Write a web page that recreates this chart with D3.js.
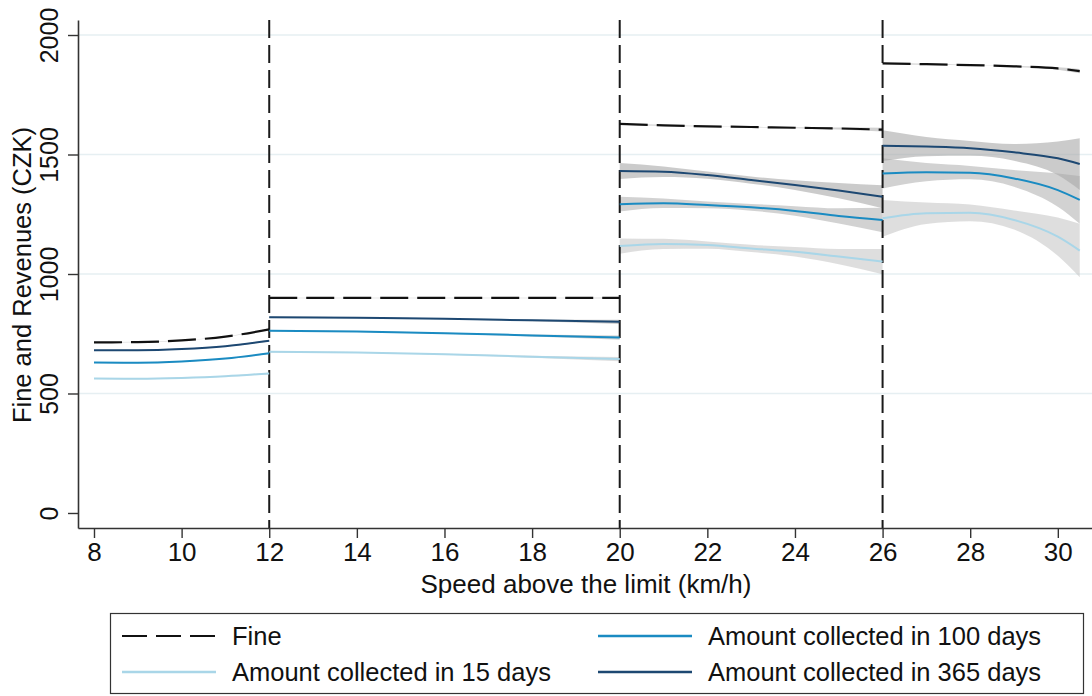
<!DOCTYPE html>
<html><head><meta charset="utf-8">
<script src="https://cdn.jsdelivr.net/npm/d3@7"></script>
<style>body{margin:0;background:#fff}svg{display:block}text{font-family:"Liberation Sans",Arial,sans-serif;fill:#111}</style>
</head><body>
<script>
// ---- data ----
const yTicks = [0, 500, 1000, 1500, 2000];
const xTicks = [8, 10, 12, 14, 16, 18, 20, 22, 24, 26, 28, 30];
const cutoffs = [12, 20, 26];
const seriesNames = ["Fine", "Amount collected in 15 days", "Amount collected in 100 days", "Amount collected in 365 days"];

const seg1X = [8, 9, 10, 11, 12];
const seg2X = [12, 14, 16, 18, 20];
const seg3X = [20, 21, 22, 23, 24, 25, 26];
const seg4X = [26, 27, 28, 29, 30, 30.5];

// values per segment
const fine1 = [714, 715, 722, 738, 768];
const fine2 = [900, 900, 900, 900, 900];
const fine3 = [1628, 1622, 1618, 1615, 1612, 1609, 1604];
const fine4 = [1881, 1878, 1874, 1869, 1860, 1849];
const d15_1 = [563, 562, 565, 572, 584];
const d15_2 = [675, 672, 664, 654, 644];
const d15_3 = [1117, 1126, 1121, 1107, 1093, 1073, 1052];
const d15_4 = [1233, 1254, 1256, 1226, 1156, 1098];
const d100_1 = [630, 629, 634, 646, 668];
const d100_2 = [763, 759, 752, 743, 734];
const d100_3 = [1292, 1296, 1289, 1279, 1264, 1243, 1226];
const d100_4 = [1421, 1426, 1424, 1400, 1351, 1310];
const d365_1 = [681, 681, 686, 698, 721];
const d365_2 = [819, 817, 813, 806, 800];
const d365_3 = [1431, 1428, 1414, 1393, 1372, 1349, 1323];
const d365_4 = [1537, 1533, 1526, 1509, 1484, 1460];

// confidence half-widths per segment
const ciFine = [[1, 1, 1, 1, 2], [1, 1, 1, 1, 2], [3, 2, 1, 1, 2, 4, 8], [3, 2, 1, 2, 5, 9]];
const ci15 = [[2, 2, 2, 2, 3], [3, 2, 2, 4, 9], [32, 21, 15, 15, 20, 32, 53], [77, 45, 35, 40, 80, 112]];
const ci100 = [[2, 2, 2, 2, 3], [3, 2, 2, 4, 9], [31, 20, 14, 14, 20, 32, 51], [63, 38, 28, 35, 70, 100]];
const ci365 = [[2, 2, 2, 2, 3], [3, 2, 2, 4, 9], [33, 22, 15, 15, 20, 32, 48], [64, 40, 31, 35, 70, 108]];

// ---- layout ----
const W = 1092, H = 696;
const svg = d3.select("body").append("svg").attr("width", W).attr("height", H);
const x = d3.scaleLinear().domain([7.635, 30.78]).range([78, 1092]);
const y = d3.scaleLinear().domain([-62.8, 2062.8]).range([528, 20]);

const segXs = [seg1X, seg2X, seg3X, seg4X];
const series = [
  {name: seriesNames[0], vals: [fine1, fine2, fine3, fine4], ci: ciFine, color: "#111", dash: "28,9", band: "#9a9a9a", bop: 0.45},
  {name: seriesNames[1], vals: [d15_1, d15_2, d15_3, d15_4], ci: ci15, color: "#a9d6e8", dash: null, band: "#c8c8c8", bop: 0.6},
  {name: seriesNames[2], vals: [d100_1, d100_2, d100_3, d100_4], ci: ci100, color: "#1a8bc2", dash: null, band: "#b4b4b4", bop: 0.6},
  {name: seriesNames[3], vals: [d365_1, d365_2, d365_3, d365_4], ci: ci365, color: "#1d4872", dash: null, band: "#a8a8a8", bop: 0.6}
];

// gridlines
svg.append("g").selectAll("line").data(yTicks.filter(d => d > 0)).join("line")
  .attr("x1", 79).attr("x2", W).attr("y1", d => y(d)).attr("y2", d => y(d))
  .attr("stroke", "#e6eff2").attr("stroke-width", 1.6);

// bands
const area = d3.area().x(d => x(d.x)).y0(d => y(d.v - d.c)).y1(d => y(d.v + d.c)).curve(d3.curveMonotoneX);
const line = d3.line().x(d => x(d.x)).y(d => y(d.v)).curve(d3.curveMonotoneX);
const pts = (s, k) => segXs[k].map((xx, i) => ({x: xx, v: s.vals[k][i], c: s.ci[k][i]}));

series.forEach(s => {
  for (let k = 0; k < 4; k++) {
    svg.append("path").attr("d", area(pts(s, k))).attr("fill", s.band).attr("fill-opacity", s.bop);
  }
});
// vertical cutoff lines
svg.append("g").selectAll("line").data(cutoffs).join("line")
  .attr("x1", d => x(d)).attr("x2", d => x(d)).attr("y1", 20).attr("y2", 528)
  .attr("stroke", "#1a1a1a").attr("stroke-width", 2).attr("stroke-dasharray", "18,7");
// lines
series.forEach(s => {
  for (let k = 0; k < 4; k++) {
    svg.append("path").attr("d", line(pts(s, k))).attr("fill", "none")
      .attr("stroke", s.color).attr("stroke-width", s.dash ? 2.2 : 2)
      .attr("stroke-dasharray", s.dash);
  }
});

// axes
const xAxis = d3.axisBottom(x).tickValues(xTicks).tickSize(10).tickPadding(5).tickSizeOuter(0);
const gx = svg.append("g").attr("transform", "translate(0,528)").call(xAxis);
gx.select(".domain").attr("stroke", "#333").attr("stroke-width", 1.6);
gx.selectAll(".tick line").attr("stroke", "#333").attr("stroke-width", 1.4);
gx.selectAll(".tick text").attr("font-size", 26).attr("fill", "#111");

const yAxis = d3.axisLeft(y).tickValues(yTicks).tickSize(10).tickSizeOuter(0).tickFormat(d3.format("d"));
const gy = svg.append("g").attr("transform", "translate(78,0)").call(yAxis);
gy.select(".domain").attr("stroke", "#333").attr("stroke-width", 1.6);
gy.selectAll(".tick line").attr("stroke", "#333").attr("stroke-width", 1.4);
gy.selectAll(".tick text").attr("font-size", 25).attr("fill", "#111")
  .attr("transform", "rotate(-90)").attr("x", 0).attr("y", -20).attr("dy", 0).attr("text-anchor", "middle");

// axis titles
svg.append("text").attr("x", 586).attr("y", 593).attr("text-anchor", "middle").attr("font-size", 26)
  .text("Speed above the limit (km/h)");
svg.append("text").attr("transform", "translate(31,275) rotate(-90)").attr("text-anchor", "middle").attr("font-size", 25.5)
  .text("Fine and Revenues (CZK)");

// legend
const lg = svg.append("g");
lg.append("rect").attr("x", 110.5).attr("y", 613.5).attr("width", 973).attr("height", 80)
  .attr("fill", "#fff").attr("stroke", "#333").attr("stroke-width", 1.2);
const legItems = [
  {s: series[0], lx: 122, ty: 636},
  {s: series[2], lx: 598, ty: 636},
  {s: series[1], lx: 122, ty: 672},
  {s: series[3], lx: 598, ty: 672}
];
legItems.forEach(it => {
  lg.append("line").attr("x1", it.lx).attr("x2", it.lx + 94).attr("y1", it.ty).attr("y2", it.ty)
    .attr("stroke", it.s.color).attr("stroke-width", it.s.dash ? 2.2 : 2.4)
    .attr("stroke-dasharray", it.s.dash ? "25,9" : null);
  lg.append("text").attr("x", it.lx + 110).attr("y", it.ty + 9).attr("font-size", 25.5).text(it.s.name);
});
</script>
</body></html>
